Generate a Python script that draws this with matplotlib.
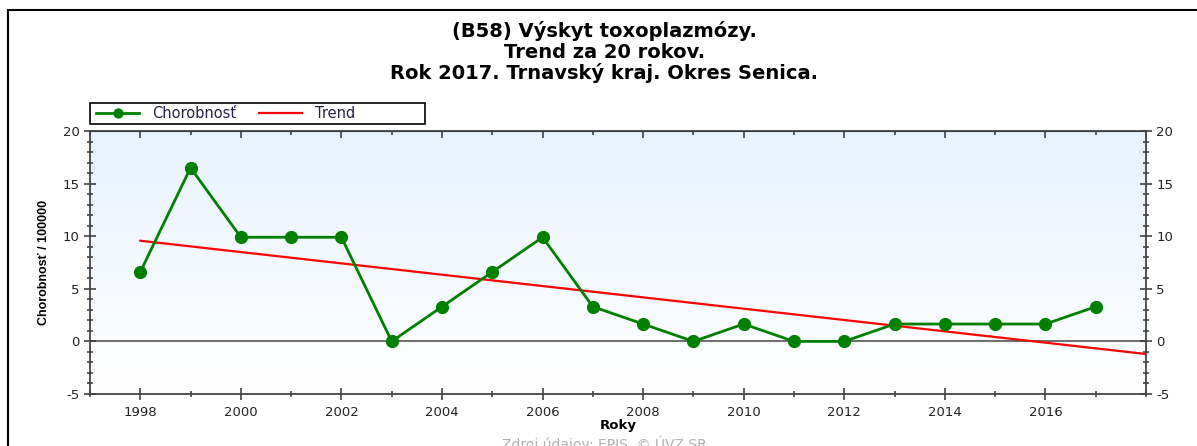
import numpy as np
import matplotlib.pyplot as plt
from matplotlib.patches import Rectangle
from matplotlib.colors import LinearSegmentedColormap
from matplotlib.ticker import MultipleLocator, FixedLocator

plt.rcParams['font.family'] = ['DejaVu Sans']
plt.rcParams['axes.unicode_minus'] = False

years = list(range(1998, 2018))
chorobnost = [6.6, 16.5, 9.9, 9.9, 9.9, 0.0, 3.3, 6.6, 9.9, 3.3,
              1.65, 0.0, 1.65, 0.0, 0.0, 1.65, 1.65, 1.65, 1.65, 3.3]
year_ticks = [1998, 2000, 2002, 2004, 2006, 2008, 2010, 2012, 2014, 2016]
title_lines = ['(B58) Výskyt toxoplazmózy.', 'Trend za 20 rokov.',
               'Rok 2017. Trnavský kraj. Okres Senica.']

# linear trend computed from the data
k, q = np.polyfit(years, chorobnost, 1)
trend_x = np.array([1998, 2018])
trend_y = k * trend_x + q

fig = plt.figure(figsize=(11.97, 4.46), dpi=100)
# outer frame
fig.patches.append(Rectangle((8 / 1197, -0.2), 1.2, 1.2 - 10 / 446,
                             transform=fig.transFigure, fill=False,
                             edgecolor='black', lw=1.5))
fig.text(0.505, 1 - 21 / 446, '\n'.join(title_lines), ha='center', va='top',
         fontsize=14, fontweight='bold', linespacing=1.1)

ax = fig.add_axes([90 / 1197, 1 - 394 / 446, (1146 - 90) / 1197, (394 - 131) / 446])
# gradient background
grad = np.linspace(0, 1, 100).reshape(-1, 1)
ax.imshow(grad, extent=[0, 1, 0, 1], transform=ax.transAxes, aspect='auto',
          cmap=LinearSegmentedColormap.from_list('bg', ['#ffffff', '#e8f2fd']),
          origin='lower', zorder=0)

ax.axhline(0, color='#555555', lw=1.2, zorder=1)
ax.plot(trend_x, trend_y, color='red', lw=1.6, label='Trend', zorder=2)
ax.plot(years, chorobnost, color='#008000', lw=2, marker='o', ms=8.5,
        label='Chorobnosť', zorder=3)

ax.set_xlim(1997, 2018)
ax.set_ylim(-5, 20)
ax.xaxis.set_major_locator(FixedLocator(year_ticks))
ax.xaxis.set_minor_locator(MultipleLocator(1))
ax.yaxis.set_major_locator(MultipleLocator(5))
ax.yaxis.set_minor_locator(MultipleLocator(1))
ax.tick_params(axis='both', which='both', direction='inout', labelsize=9.5,
               colors='#333333', labelcolor='#222222', width=1.1)
ax.tick_params(axis='both', which='major', length=8)
ax.tick_params(axis='both', which='minor', length=5)
ax.tick_params(axis='x', which='major', pad=5)
ax.tick_params(axis='y', right=True, labelright=True, which='both')
for s in ax.spines.values():
    s.set_color('#444444')
    s.set_linewidth(1.3)

top = ax.secondary_xaxis('top')
top.xaxis.set_major_locator(FixedLocator(year_ticks))
top.xaxis.set_minor_locator(MultipleLocator(1))
top.tick_params(which='both', direction='in', labeltop=False, colors='#333333',
                width=1.1)
top.tick_params(which='major', length=5)
top.tick_params(which='minor', length=3)

ax.set_xlabel('Roky', fontsize=9.5, fontweight='bold', labelpad=0)
ax.set_ylabel('Chorobnosť / 100000', fontsize=9, fontweight='bold', labelpad=9,
              family=['Liberation Sans Narrow', 'Liberation Sans'])

handles, labels = ax.get_legend_handles_labels()
leg = ax.legend(handles[::-1], labels[::-1], ncol=2, loc='center left',
                bbox_to_anchor=(0.004, 1 + 17.5 / 263), frameon=False,
                fontsize=10.5, borderpad=0.1, handlelength=3.0,
                handletextpad=0.9, borderaxespad=0, columnspacing=1.5,
                markerscale=0.75)
for t in leg.get_texts():
    t.set_color('#222244')
ax.add_patch(Rectangle((0, 1 + 7 / 263), 335 / 1056, 21 / 263,
                       transform=ax.transAxes, fill=False, edgecolor='black',
                       lw=1.2, clip_on=False))

fig.text(0.505, 1 - 436 / 446, 'Zdroj údajov: EPIS, © ÚVZ SR', ha='center',
         va='top', fontsize=10, color='#b0b0b0')

fig.savefig('out.png', dpi=100)
